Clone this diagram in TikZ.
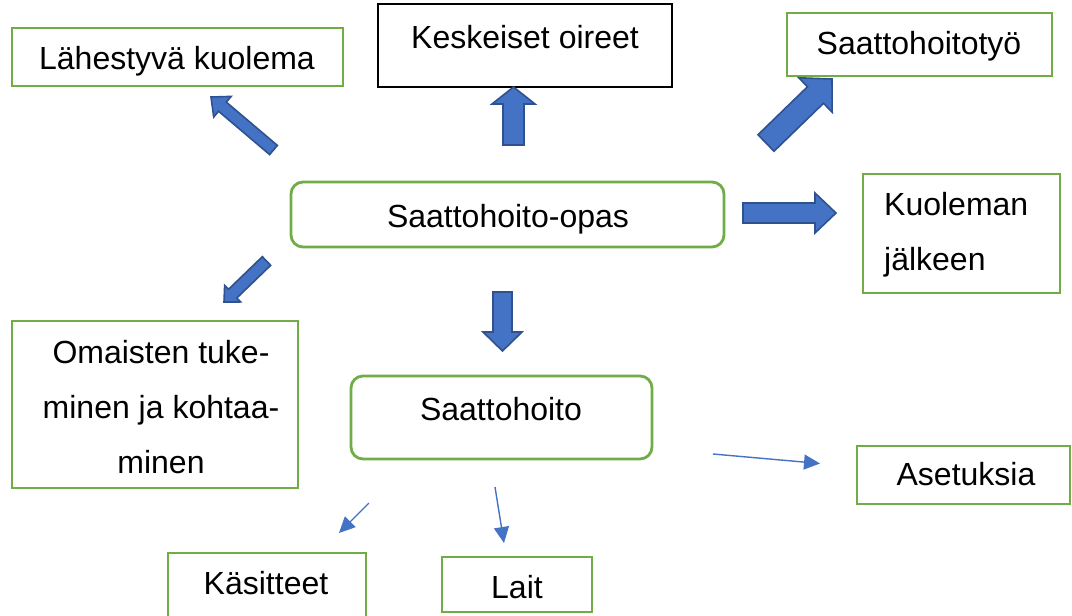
\documentclass[tikz,border=0pt]{standalone}
\usepackage{fontspec}
\setmainfont{Liberation Sans}
\usetikzlibrary{calc,arrows.meta}
\definecolor{gr}{HTML}{70AD47}
\definecolor{bl}{HTML}{4472C4}
\definecolor{bld}{HTML}{2F528F}
\tikzset{
 gbox/.style={draw=gr, line width=2.8pt, inner sep=0pt},
 kbox/.style={draw=black, line width=1.3pt, inner sep=0pt},
 rbox/.style={gbox, rounded corners=12pt},
 txt/.style={font=\fontsize{32}{55}\selectfont, inner sep=0pt, anchor=base},
 mtxt/.style={font=\fontsize{32}{55}\selectfont, inner sep=0pt},
 barrow/.style={fill=bl, draw=bld, line width=1.6pt, line join=miter},
 thinarrow/.style={draw=bl, line width=1.4pt, -{Triangle[length=16pt,width=15pt]}},
}
\newcommand\blockarr[5]{%
  \coordinate (bA) at (#1); \coordinate (bB) at (#2);
  \coordinate (bH) at ($(bB)!#5!(bA)$);
  \draw[barrow] ($(bA)!#3!90:(bB)$) -- ($(bH)!#3!-90:(bA)$) -- ($(bH)!#4!-90:(bA)$) -- (bB) -- ($(bH)!#4!90:(bA)$) -- ($(bH)!#3!90:(bA)$) -- ($(bA)!#3!-90:(bB)$) -- cycle;}
\begin{document}
\begin{tikzpicture}[x=1pt,y=-1pt]
\useasboundingbox (0,0) rectangle (1072,616);
\clip (0,0) rectangle (1072,616);
\fill[white] (0,0) rectangle (1072,616);
% boxes
\node[gbox, minimum width=331pt, minimum height=58pt] (lk) at (177.5,57) {};
\node[kbox, minimum width=294pt, minimum height=83pt] (ko) at (525,45.5) {};
\node[gbox, minimum width=265pt, minimum height=63pt] (st) at (919.5,44.5) {};
\node[rbox, minimum width=433pt, minimum height=65pt] (op) at (507.5,214.5) {};
\node[gbox, minimum width=197pt, minimum height=119pt] (kj) at (961.5,233.5) {};
\node[gbox, minimum width=286pt, minimum height=167pt] (om) at (155,404.5) {};
\node[rbox, minimum width=301pt, minimum height=83pt] (sh) at (501.5,417.5) {};
\node[gbox, minimum width=213pt, minimum height=58pt] (as) at (963.5,475) {};
\node[gbox, minimum width=198pt, minimum height=77pt] (ka) at (267,591.5) {};
\node[gbox, minimum width=150pt, minimum height=55pt] (la) at (517,584.5) {};
% texts
\node[txt] (tlk) at (177,69) {Lähestyvä kuolema};
\node[txt] (tko) at (525,48) {Keskeiset oireet};
\node[txt] (tst) at (919,54) {Saattohoitotyö};
\node[txt] (top) at (508,227) {Saattohoito-opas};
\node[mtxt, align=left, anchor=base west] (tkj) at (884,270) {Kuoleman\\jälkeen};
\node[mtxt, align=center, anchor=base] (tom) at (161,473) {Omaisten tuke-\\minen ja kohtaa-\\minen};
\node[txt] (tsh) at (501,420) {Saattohoito};
\node[txt] (tas) at (966,485) {Asetuksia};
\node[txt] (tka) at (266,594) {Käsitteet};
\node[txt] (tla) at (517,598) {Lait};
% block arrows
\blockarr{273.5,150}{211,97}{6pt}{13.5pt}{15pt}
\blockarr{513.5,145}{513.5,87}{10.5pt}{21.5pt}{17pt}
\blockarr{766,143}{832,79}{11.5pt}{24pt}{23pt}
\blockarr{743,213}{836,213}{10pt}{20pt}{21pt}
\blockarr{266.5,261}{224,302}{6pt}{11.5pt}{12pt}
\blockarr{502.5,292}{502.5,351}{9.5pt}{19.5pt}{19pt}
% thin arrows
\coordinate (c1s) at (369,503); \coordinate (c1e) at (339,533);
\coordinate (c2s) at (495,487); \coordinate (c2e) at (504,543);
\coordinate (c3s) at (713,454); \coordinate (c3e) at (820,463.5);
\draw[thinarrow] (c1s) -- (c1e);
\draw[thinarrow] (c2s) -- (c2e);
\draw[thinarrow] (c3s) -- (c3e);
\end{tikzpicture}
\end{document}
